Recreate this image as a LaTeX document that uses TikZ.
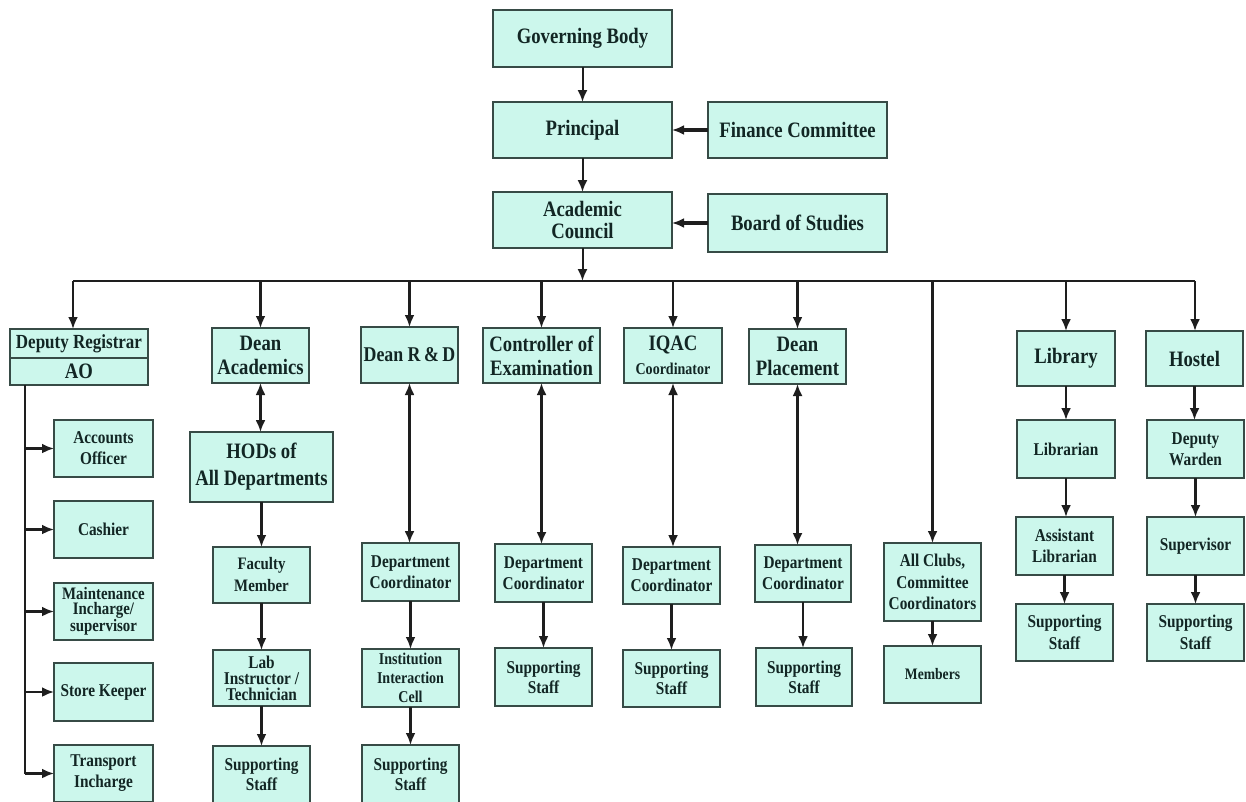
\documentclass[tikz,border=0pt]{standalone}
\usepackage{fontspec}
\setmainfont[FakeStretch=0.85]{Liberation Serif}
\usetikzlibrary{arrows.meta}
\definecolor{boxfill}{RGB}{204,247,236}
\definecolor{boxline}{RGB}{55,75,70}
\definecolor{conn}{RGB}{30,30,30}
\definecolor{txt}{RGB}{18,38,36}
\begin{document}
\begin{tikzpicture}[x=1pt,y=-1pt,
  box/.style={draw=boxline, line width=1.6pt, fill=boxfill, text=txt, align=center, inner sep=1pt, outer sep=0pt},
  sz/.style n args={2}{minimum width=#1pt, minimum height=#2pt},
  fnt/.style n args={2}{font=\bfseries\fontsize{#1}{#2}\selectfont},
  big/.style={fnt={22}{24}},
  wire/.style={draw=conn, line width=2.4pt},
  arr/.style={wire, -{Latex[length=12pt,width=10pt]}},
  dbl/.style={wire, line width=2.2pt, {Latex[length=12pt,width=10pt]}-{Latex[length=12pt,width=10pt]}},
  ]
\useasboundingbox (0,0) rectangle (1246,801);
\fill[white] (0,0) rectangle (1246,801);

% top
\node[box,big,sz={179}{57}] (gov) at (582.5,38.5) {Governing Body};
\node[box,big,sz={179}{56}] (prin) at (582.5,130) {Principal};
\node[box,big,sz={179}{56}] (fin) at (797.5,130) {Finance Committee};
\node[box,fnt={22}{22},sz={179}{56}] (ac) at (582.5,220) {Academic\\Council};
\node[box,big,sz={179}{58}] (bos) at (797.5,223) {Board of Studies};

% first row
\node[box,fnt={20}{20},sz={138}{29}] (dr) at (79,343.5) {Deputy Registrar};
\node[box,big,sz={138}{27}] (ao) at (79,371.5) {AO};
\node[box,big,sz={97}{55}] (da) at (260.5,355.5) {Dean\\Academics};
\node[box,fnt={21}{24},sz={97}{56}] (rd) at (409.5,355) {Dean R\,\&\,D};
\node[box,big,sz={117}{55}] (coe) at (541.5,355.5) {Controller of\\Examination};
\node[box,fnt={22}{24},sz={98}{55}] (iqac) at (673,355.5) {IQAC\\{\fontsize{16.5}{16}\selectfont Coordinator}};
\node[box,big,sz={97}{55}] (dp) at (797.5,356.5) {Dean\\Placement};
\node[box,big,sz={98}{55}] (lib) at (1066,358.5) {Library};
\node[box,big,sz={97}{55}] (hos) at (1194.5,358.5) {Hostel};

% deputy registrar children
\node[box,fnt={18}{21},sz={99}{57}] (acc) at (103.5,448.5) {Accounts\\Officer};
\node[box,fnt={18}{20},sz={99}{57}] (cash) at (103.5,529.5) {Cashier};
\node[box,fnt={17.5}{15.5},sz={99}{57}] (maint) at (103.5,611.5) {Maintenance\\Incharge/\\supervisor};
\node[box,fnt={18}{20},sz={99}{58}] (store) at (103.5,692) {Store Keeper};
\node[box,fnt={18}{21},sz={99}{57}] (trans) at (103.5,773.5) {Transport\\Incharge};

% dean academics column
\node[box,fnt={22}{27},sz={143}{70}] (hod) at (261.5,467) {HODs of\\All Departments};
\node[box,fnt={17.5}{22},sz={97}{56}] (fac) at (261.5,575) {Faculty\\Member};
\node[box,fnt={18}{16},sz={97}{56}] (lab) at (261.5,678) {Lab\\Instructor /\\Technician};
\node[box,fnt={18}{20},sz={97}{57}] (sa) at (261.5,774.5) {Supporting\\Staff};

% dean R&D column
\node[box,fnt={18}{21},sz={97}{58}] (rdc) at (410.5,572) {Department\\Coordinator};
\node[box,fnt={16.5}{19},sz={97}{58}] (iic) at (410.5,678) {Institution\\Interaction\\Cell};
\node[box,fnt={18}{20},sz={97}{58}] (rds) at (410.5,774) {Supporting\\Staff};

% controller column
\node[box,fnt={18}{21},sz={97}{58}] (coec) at (543.5,573) {Department\\Coordinator};
\node[box,fnt={18}{20},sz={97}{58}] (coes) at (543.5,677) {Supporting\\Staff};

% IQAC column
\node[box,fnt={18}{21},sz={97}{57}] (iqc) at (671.5,575.5) {Department\\Coordinator};
\node[box,fnt={18}{20},sz={97}{57}] (iqs) at (671.5,678.5) {Supporting\\Staff};

% placement column
\node[box,fnt={18}{21},sz={96}{57}] (dpc) at (803,573.5) {Department\\Coordinator};
\node[box,fnt={18}{20},sz={96}{58}] (dps) at (804,677) {Supporting\\Staff};

% clubs
\node[box,fnt={18}{21.5},sz={97}{78}] (clubs) at (932.5,582) {All Clubs,\\Committee\\Coordinators};
\node[box,fnt={16}{18},sz={97}{57}] (mem) at (932.5,674.5) {Members};

% library
\node[box,fnt={18}{20},sz={98}{58}] (libn) at (1066,449) {Librarian};
\node[box,fnt={18}{21.5},sz={97}{58}] (alib) at (1064.5,546) {Assistant\\Librarian};
\node[box,fnt={18}{21.5},sz={97}{57}] (libs) at (1064.5,632.5) {Supporting\\Staff};

% hostel
\node[box,fnt={18}{21.5},sz={97}{58}] (dw) at (1195.5,449) {Deputy\\Warden};
\node[box,fnt={18}{20},sz={97}{58}] (sup) at (1195.5,546) {Supervisor};
\node[box,fnt={18}{21.5},sz={97}{57}] (hs) at (1195.5,632.5) {Supporting\\Staff};

% top connectors
\draw[arr, line width=2pt] (gov) -- (prin);
\draw[arr, line width=2pt] (prin) -- (ac);
\draw[arr, line width=3.2pt] (fin) -- (prin);
\draw[arr, line width=3.2pt] (bos.west) -- (ac.east |- bos.west);

% bus
\coordinate (bl) at (73,281);
\coordinate (br) at (1195,281);
\draw[arr, line width=2pt] (ac.south) -- (ac.south |- bl);
\draw[wire] (bl) -- (br);
\draw[arr] (bl) -- (bl |- dr.north);
\draw[arr] (da.north |- bl) -- (da.north);
\draw[arr] (rd.north |- bl) -- (rd.north);
\draw[arr] (coe.north |- bl) -- (coe.north);
\draw[arr] (iqac.north |- bl) -- (iqac.north);
\draw[arr] (dp.north |- bl) -- (dp.north);
\draw[arr] (clubs.north |- bl) -- (clubs.north);
\draw[arr] (lib.north |- bl) -- (lib.north);
\draw[arr] (br) -- (br |- hos.north);

% deputy registrar branches
\coordinate (drv) at (25,385);
\draw[wire, line width=2.8pt] (drv) -- (drv |- trans.west);
\foreach \n in {acc,cash,maint,store,trans}
  \draw[arr, line width=2.8pt] (drv |- \n.west) -- (\n.west);

% double arrows
\draw[dbl] (da.south) -- (da.south |- hod.north);
\draw[dbl] (rd.south) -- (rd.south |- rdc.north);
\draw[dbl] (coe.south) -- (coe.south |- coec.north);
\draw[dbl] (iqac.south) -- (iqac.south |- iqc.north);
\draw[dbl] (dp.south) -- (dp.south |- dpc.north);

% chains
\foreach \a/\b in {hod/fac,fac/lab,lab/sa,rdc/iic,iic/rds,coec/coes,iqc/iqs,dpc/dps,clubs/mem,lib/libn,libn/alib,alib/libs,hos/dw,dw/sup,sup/hs}
  \draw[arr] (\a.south) -- (\a.south |- \b.north);
\end{tikzpicture}
\end{document}
